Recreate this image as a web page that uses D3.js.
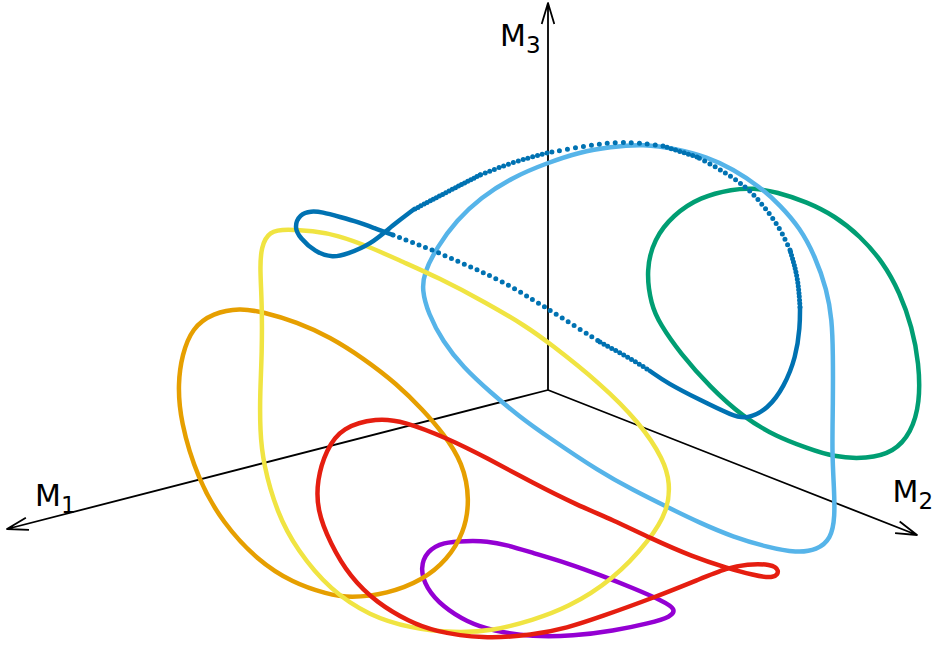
<!DOCTYPE html>
<html>
<head>
<meta charset="utf-8">
<script src="https://cdn.jsdelivr.net/npm/d3@7"></script>
<style>
	html, body { margin: 0; padding: 0; background: white; }
	svg { display: block; }
	text { font-family: "DejaVu Sans", sans-serif; fill: black; }
</style>
</head>
<body>
<script>
// projected coordinates of the curves, [across, up], origin where the axes meet
var purple = [[-.81,-1.51],[-.61,-1.51],[-.41,-1.55],[-.15,-1.63],[.19,-1.73],[.52,-1.85],[.85,-1.98],[1.15,-2.11],[1.28,-2.19],[1.23,-2.27],[1.02,-2.33],[.65,-2.41],[.25,-2.46],[-.15,-2.47],[-.55,-2.41],[-.81,-2.32],[-1.05,-2.17],[-1.22,-1.98],[-1.28,-1.78],[-1.21,-1.61],[-1.05,-1.52]]
var green = [[1.85,2.01],[2.05,2.02],[2.29,1.98],[2.59,1.88],[2.87,1.74],[3.12,1.54],[3.35,1.28],[3.52,.97],[3.64,.63],[3.71,.27],[3.72,-.13],[3.63,-.43],[3.46,-.62],[3.19,-.69],[2.85,-.67],[2.59,-.58],[2.29,-.47],[1.95,-.27],[1.62,.03],[1.32,.37],[1.12,.66],[1.03,.85],[.98,1.20],[1.06,1.51],[1.25,1.75],[1.52,1.93]]
var sky = [[.62,2.43],[.95,2.46],[1.29,2.41],[1.59,2.33],[1.85,2.21],[2.12,2.03],[2.32,1.85],[2.52,1.62],[2.67,1.34],[2.79,1.00],[2.84,.70],[2.85,.37],[2.85,-.13],[2.84,-.63],[2.86,-.97],[2.87,-1.27],[2.83,-1.49],[2.69,-1.60],[2.49,-1.63],[2.19,-1.57],[1.85,-1.47],[1.52,-1.33],[1.19,-1.17],[.85,-1.00],[.52,-.82],[0,-.47],[-.28,-.27],[-.58,-.02],[-.85,.23],[-1.05,.48],[-1.20,.77],[-1.26,1.00],[-1.24,1.17],[-1.11,1.43],[-.91,1.70],[-.68,1.92],[-.35,2.13],[-.01,2.27],[.32,2.38]]
var orange = [[-3.08,.82],[-2.85,.78],[-2.51,.68],[-2.18,.53],[-1.85,.32],[-1.51,.06],[-1.25,-.20],[-1.05,-.43],[-.85,-.73],[-.78,-1.10],[-.84,-1.43],[-1.01,-1.70],[-1.25,-1.90],[-1.61,-2.04],[-1.98,-2.08],[-2.21,-2.04],[-2.55,-1.93],[-2.91,-1.70],[-3.25,-1.33],[-3.50,-.90],[-3.68,-.30],[-3.70,.07],[-3.66,.35],[-3.56,.62],[-3.35,.77]]
var yellow = [[-2.61,1.61],[-2.35,1.59],[-2.11,1.55],[-1.78,1.43],[-1.45,1.28],[-1.11,1.13],[-.61,.87],[-.21,.63],[0,.48],[.52,.07],[.92,-.33],[1.16,-.70],[1.22,-.93],[1.20,-1.20],[1.02,-1.50],[.65,-1.90],[.19,-2.18],[-.15,-2.30],[-.55,-2.41],[-.95,-2.43],[-1.38,-2.38],[-1.78,-2.26],[-2.18,-2.00],[-2.51,-1.60],[-2.71,-1.23],[-2.85,-.73],[-2.88,-.40],[-2.88,-.03],[-2.86,.37],[-2.86,.87],[-2.88,1.20],[-2.87,1.43],[-2.79,1.59]]
var blue = [[-.68,2.15],[-1.01,1.98],[-1.35,1.80],[-1.55,1.65],[-1.78,1.45],[-2.01,1.36],[-2.15,1.32],[-2.33,1.38],[-2.48,1.52],[-2.54,1.63],[-2.48,1.76],[-2.37,1.79],[-2.26,1.78],[-2.08,1.73],[-1.90,1.68],[-1.74,1.62],[-1.55,1.55],[-1.34,1.47],[-1.13,1.39],[-.89,1.28],[-.68,1.19],[-.45,1.08],[-.21,.94],[0,.81],[.52,.48],[.85,.30],[1.02,.19],[1.19,.07],[1.52,-.10],[1.85,-.26],[1.99,-.29],[2.20,-.19],[2.36,.03],[2.48,.33],[2.52,.63],[2.52,.83],[2.50,1.13],[2.42,1.40],[2.32,1.62],[2.15,1.85],[1.99,2.03],[1.70,2.22],[1.49,2.33],[1.15,2.44],[.85,2.48],[.52,2.47],[-.01,2.37],[-.35,2.28],[-.68,2.15]]
var red = [[-1.71,-.28],[-1.45,-.31],[-1.01,-.48],[-.61,-.68],[-.15,-.93],[.29,-1.15],[.65,-1.30],[1.02,-1.48],[1.45,-1.67],[1.79,-1.78],[2.05,-1.85],[2.27,-1.89],[2.32,-1.80],[2.23,-1.74],[1.99,-1.74],[1.79,-1.78],[1.52,-1.89],[1.05,-2.08],[.52,-2.27],[.19,-2.38],[-.15,-2.45],[-.65,-2.49],[-1.15,-2.41],[-1.38,-2.32],[-1.71,-2.13],[-1.98,-1.87],[-2.18,-1.53],[-2.31,-1.20],[-2.31,-.90],[-2.22,-.60],[-2.06,-.37]]

// the samples of the blue curve thin out where it moves fast: [from, to, gap]
var bluePieces = [[0,2,3.5],[2,16,0],[16,24,7],[24,26,4.5],[26,35,0],[35,37,3.5],[37,42,6],[42,43,4.5],[43,46,8],[46,48,5]]

var axisNames = ["1", "2", "3"]
var axisEnds = [[-5.41,-1.39],[3.69,-1.45],[0,3.87]]
var axisLabels = [[-5.13,-1.16],[3.445,-1.12],[-.48,3.44]]

var width = 932, height = 648

var x = d3.scaleLinear().domain([-5.48, 3.84]).range([0, width])
var y = d3.scaleLinear().domain([3.90, -2.58]).range([0, height])

var svg = d3.select("body").append("svg")
	.attr("width", width)
	.attr("height", height)

// axes with open arrow heads
var axes = svg.append("g")
	.attr("stroke", "black")
	.attr("stroke-width", 1.8)
	.attr("stroke-linejoin", "round")
	.attr("fill", "none")

axes.selectAll("path").data(axisEnds).enter().append("path")
	.attr("d", function(d) {
		var x0 = x(0), y0 = y(0), x1 = x(d[0]), y1 = y(d[1])
		var a = Math.atan2(y1 - y0, x1 - x0)
		var barb = 22, spread = 0.29
		return "M" + x0 + "," + y0 + "L" + x1 + "," + y1
			+ "M" + (x1 - barb * Math.cos(a - spread)) + "," + (y1 - barb * Math.sin(a - spread))
			+ "L" + x1 + "," + y1
			+ "L" + (x1 - barb * Math.cos(a + spread)) + "," + (y1 - barb * Math.sin(a + spread))
	})

var label = svg.selectAll("text").data(axisLabels).enter().append("text")
	.attr("x", function(d) { return x(d[0]) })
	.attr("y", function(d) { return y(d[1]) })
	.attr("font-size", 30)
label.append("tspan").text("M")
label.append("tspan")
	.attr("font-size", 23)
	.attr("dy", 7)
	.text(function(d, i) { return axisNames[i] })

// curves, same order as they were plotted
var closedLine = d3.line()
	.x(function(d) { return x(d[0]) })
	.y(function(d) { return y(d[1]) })
	.curve(d3.curveBasisClosed)
var openLine = d3.line()
	.x(function(d) { return x(d[0]) })
	.y(function(d) { return y(d[1]) })
	.curve(d3.curveBasis)

function loop(points, colour)
{
	svg.append("path")
		.attr("d", closedLine(points))
		.attr("fill", "none")
		.attr("stroke", colour)
		.attr("stroke-width", 4.5)
		.attr("stroke-linejoin", "round")
}

loop(purple, "#9400D3")
loop(green, "#009E73")
loop(sky, "#56B4E9")
loop(orange, "#E69F00")
loop(yellow, "#F0E442")

svg.append("g").selectAll("path").data(bluePieces).enter().append("path")
	.attr("d", function(d) { return openLine(blue.slice(d[0], d[1] + 1)) })
	.attr("fill", "none")
	.attr("stroke", "#0072B2")
	.attr("stroke-width", function(d) { return d[2] ? 5 : 4.5 })
	.attr("stroke-linecap", "round")
	.attr("stroke-dasharray", function(d) { return d[2] ? "0 " + d[2] : null })

loop(red, "#E51E10")
</script>
</body>
</html>
